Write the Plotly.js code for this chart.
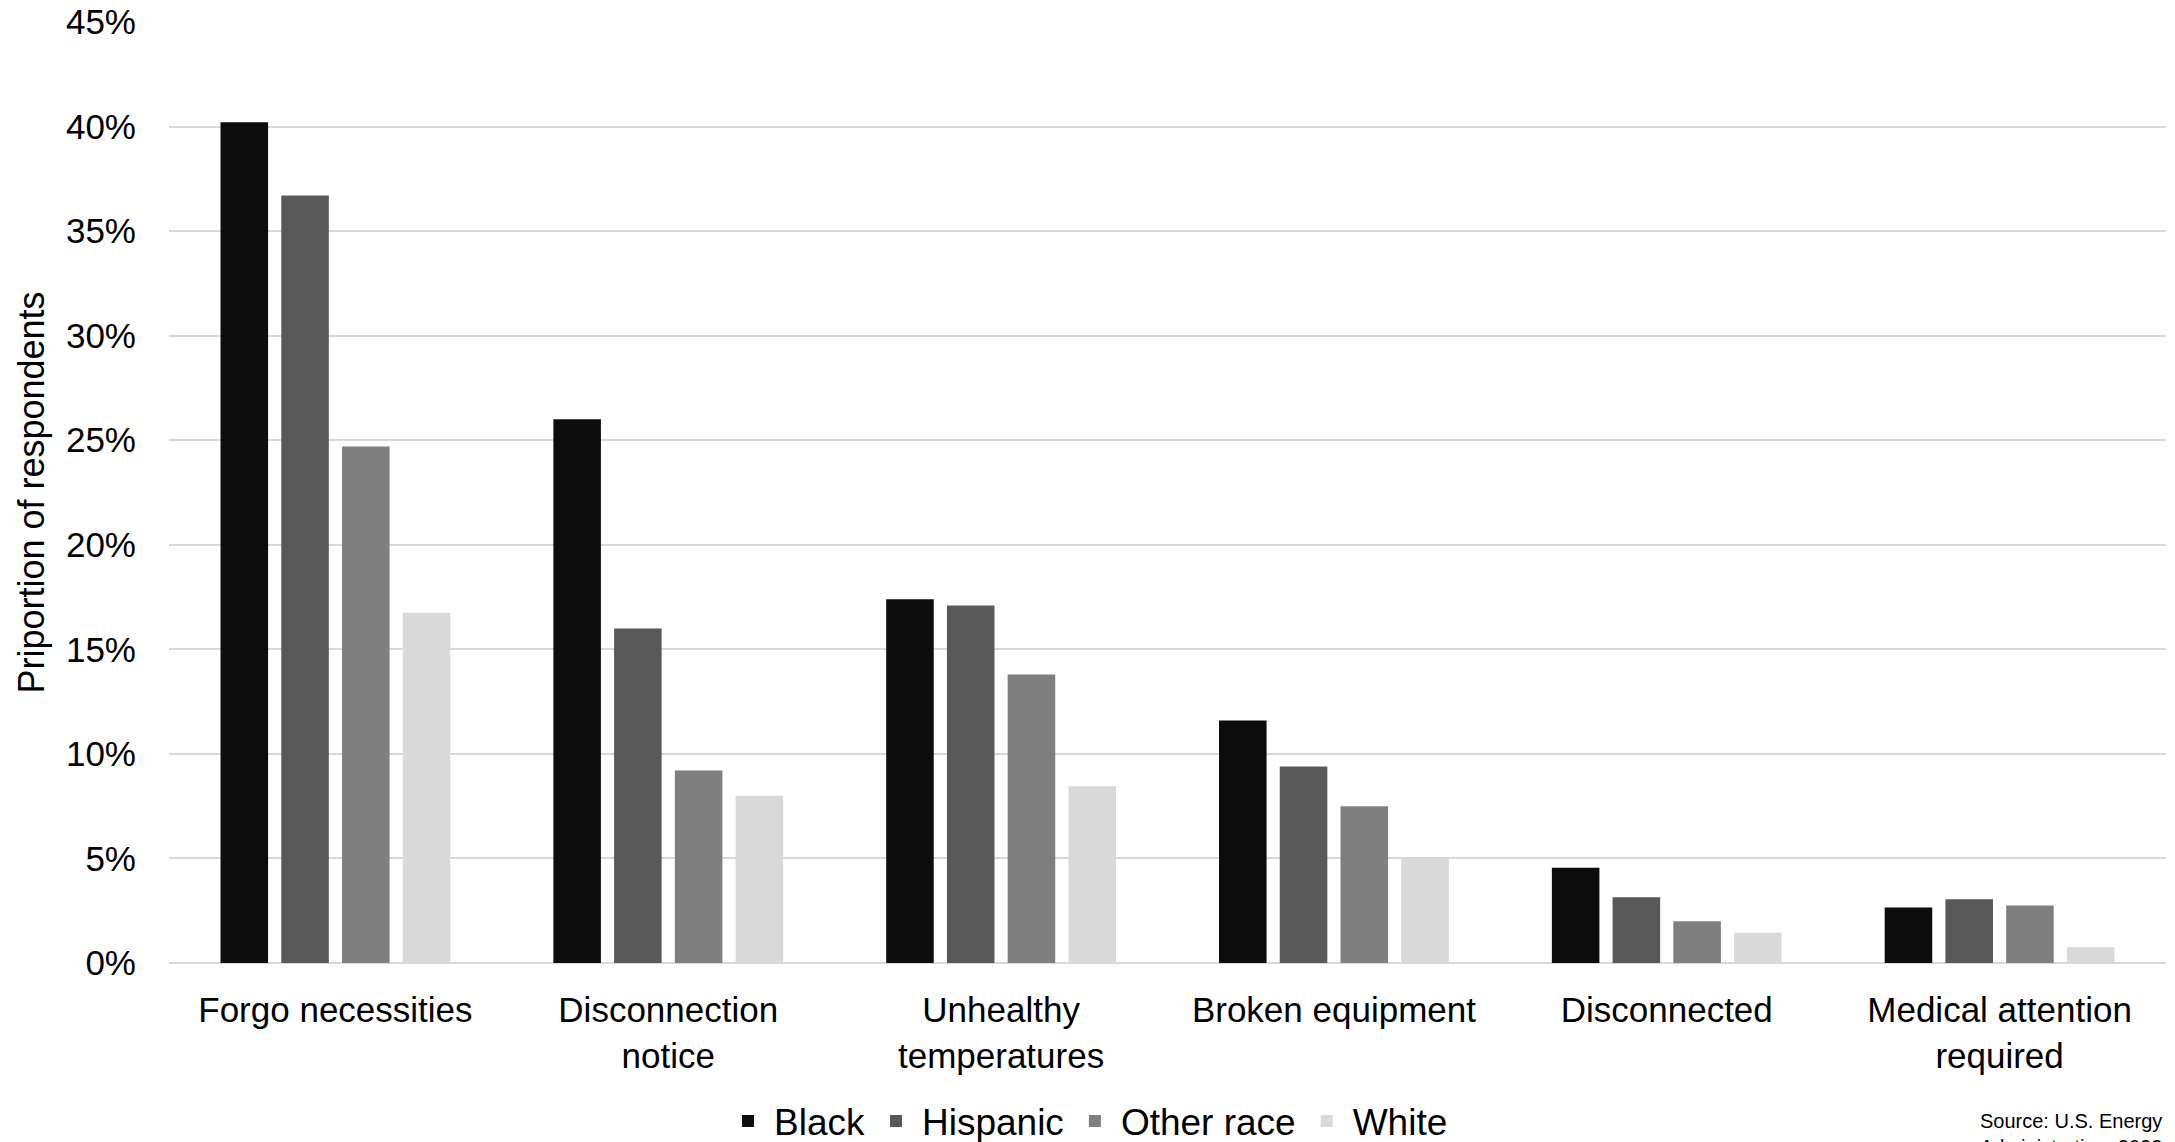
<!DOCTYPE html>
<html>
<head>
<meta charset="utf-8">
<script src="https://cdn.plot.ly/plotly-3.0.1.min.js"></script>
<style>
  html, body { margin: 0; padding: 0; background: #ffffff; }
  #chart { width: 2175px; height: 1142px; }
</style>
</head>
<body>
<div id="chart"></div>
<script>
// Energy hardship outcomes by race/ethnicity (share of respondents, %)
const categories = [
  "Forgo necessities",
  "Disconnection<br>notice",
  "Unhealthy<br>temperatures",
  "Broken equipment",
  "Disconnected",
  "Medical attention<br>required"
];

const black    = [40.2, 26.0, 17.4, 11.6, 4.55, 2.65];
const hispanic = [36.7, 16.0, 17.1, 9.4, 3.15, 3.05];
const other    = [24.7, 9.2, 13.8, 7.5, 2.0, 2.75];
const white    = [16.75, 8.0, 8.45, 5.0, 1.45, 0.75];

const seriesNames  = ["Black", "Hispanic", "Other race", "White"];
const seriesValues = [black, hispanic, other, white];
const seriesColors = ["#0d0d0d", "#595959", "#7f7f7f", "#d9d9d9"];

const yTickValues = [0, 5, 10, 15, 20, 25, 30, 35, 40, 45];
const yTickLabels = ["0%", "5%", "10%", "15%", "20%", "25%", "30%", "35%", "40%", "45%"];

const sourceNote = "Source: U.S. Energy<br>Administration, 2023";

const baseFont = "Liberation Sans, Arial, sans-serif";

const traces = seriesNames.map((name, i) => ({
  type: "bar",
  name: name,
  x: categories,
  y: seriesValues[i],
  marker: { color: seriesColors[i] },
  hoverinfo: "x+y+name"
}));

const layout = {
  width: 2175,
  height: 1142,
  paper_bgcolor: "#ffffff",
  plot_bgcolor: "#ffffff",
  margin: { l: 169, r: 9, t: 22, b: 179 },
  barmode: "group",
  bargap: 0.27,
  bargroupgap: 0.217,
  font: { family: baseFont, color: "#000000", size: 35 },
  xaxis: {
    type: "category",
    showgrid: false,
    showline: false,
    zeroline: false,
    ticks: "",
    ticklabelstandoff: 23,
    tickfont: { family: baseFont, size: 35, color: "#000000" }
  },
  yaxis: {
    range: [0, 45],
    tickvals: yTickValues,
    ticktext: yTickLabels,
    showgrid: true,
    gridcolor: "#d9d9d9",
    gridwidth: 2,
    zeroline: true,
    zerolinecolor: "#d9d9d9",
    zerolinewidth: 2,
    showline: false,
    ticks: "",
    ticklabelstandoff: 32,
    tickfont: { family: baseFont, size: 35, color: "#000000" },
    title: {
      text: "Priportion of respondents",
      standoff: 10,
      font: { family: baseFont, size: 36, color: "#000000" }
    }
  },
  showlegend: true,
  legend: {
    orientation: "h",
    xref: "container",
    yref: "container",
    x: 0.5,
    xanchor: "center",
    y: 0.018,
    yanchor: "middle",
    font: { family: baseFont, size: 37, color: "#000000" },
    itemwidth: 42,
    traceorder: "normal",
    bgcolor: "rgba(0,0,0,0)"
  },
  annotations: [
    {
      xref: "paper",
      yref: "paper",
      x: 0.906,
      y: -0.154,
      xanchor: "left",
      yanchor: "top",
      align: "left",
      showarrow: false,
      text: sourceNote,
      font: { family: baseFont, size: 20, color: "#000000" }
    }
  ]
};

Plotly.newPlot("chart", traces, layout, { displayModeBar: false, staticPlot: true });
</script>
</body>
</html>
